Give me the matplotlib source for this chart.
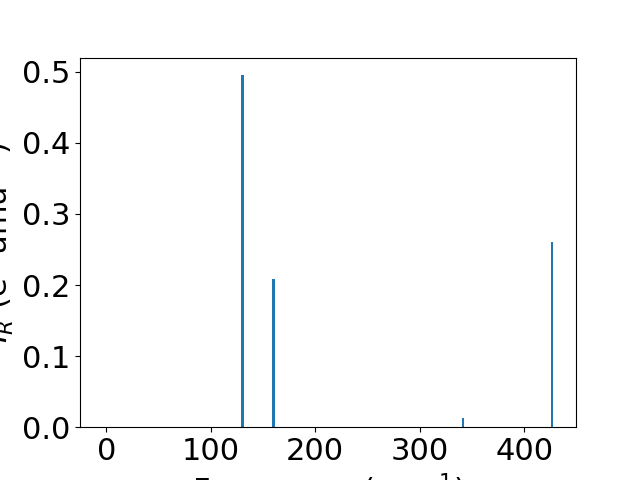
import matplotlib
matplotlib.use("Agg")
import matplotlib.pyplot as plt

frequencies = [130.3, 160.2, 341.3, 426.5]
intensities = [0.496, 0.209, 0.0135, 0.260]

plt.rcParams['font.size'] = 22
fig, ax = plt.subplots(figsize=(6.4, 4.8), dpi=100)
ax.bar(frequencies, intensities, width=2.4, color='#1f77b4')
ax.set_xlim(-25.2, 449.5)
ax.set_ylim(0, 0.52)
ax.set_xticks([0, 100, 200, 300, 400])
ax.set_yticks([0.0, 0.1, 0.2, 0.3, 0.4, 0.5])
ax.set_xlabel('Frequency (cm$^{-1}$)')
ax.set_ylabel('$I_R$ (e$^2$ amu$^{-1}$)')
fig.savefig('out.png', dpi=100)
